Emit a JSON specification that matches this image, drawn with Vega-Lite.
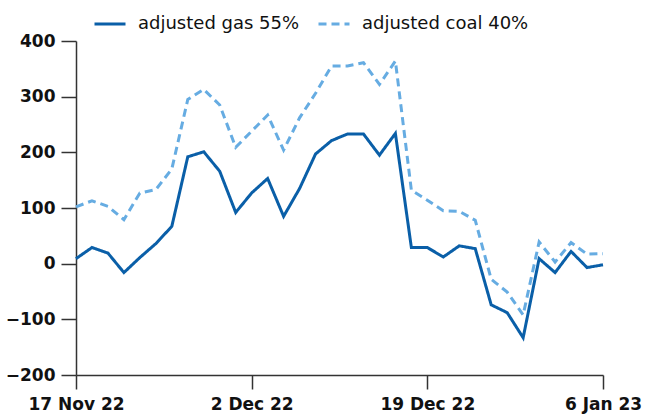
{
  "$schema": "https://vega.github.io/schema/vega-lite/v6.json",
  "width": 527,
  "height": 334,
  "autosize": {"type": "none"},
  "padding": {"left": 76, "top": 41, "right": 58, "bottom": 44},
  "background": "white",
  "config": {
    "font": "DejaVu Sans",
    "view": {"stroke": null},
    "axis": {"grid": false, "domainColor": "#333333", "tickColor": "#333333", "domainWidth": 1.5, "tickWidth": 1.5, "labelColor": "#111111", "labelFont": "DejaVu Sans", "labelFontWeight": "bold", "labelFontSize": 17, "tickSize": 14, "title": null}
  },
  "data": {
    "values": [
      {"date": "17 Nov 22", "adjusted gas 55%": 9, "adjusted coal 40%": 102},
      {"date": "18 Nov 22", "adjusted gas 55%": 29, "adjusted coal 40%": 113},
      {"date": "21 Nov 22", "adjusted gas 55%": 19, "adjusted coal 40%": 103},
      {"date": "22 Nov 22", "adjusted gas 55%": -16, "adjusted coal 40%": 79},
      {"date": "23 Nov 22", "adjusted gas 55%": 11, "adjusted coal 40%": 127},
      {"date": "24 Nov 22", "adjusted gas 55%": 36, "adjusted coal 40%": 133},
      {"date": "25 Nov 22", "adjusted gas 55%": 67, "adjusted coal 40%": 170},
      {"date": "28 Nov 22", "adjusted gas 55%": 192, "adjusted coal 40%": 295},
      {"date": "29 Nov 22", "adjusted gas 55%": 201, "adjusted coal 40%": 313},
      {"date": "30 Nov 22", "adjusted gas 55%": 166, "adjusted coal 40%": 285},
      {"date": "1 Dec 22", "adjusted gas 55%": 92, "adjusted coal 40%": 209},
      {"date": "2 Dec 22", "adjusted gas 55%": 127, "adjusted coal 40%": 238},
      {"date": "5 Dec 22", "adjusted gas 55%": 153, "adjusted coal 40%": 267},
      {"date": "6 Dec 22", "adjusted gas 55%": 85, "adjusted coal 40%": 204},
      {"date": "7 Dec 22", "adjusted gas 55%": 135, "adjusted coal 40%": 262},
      {"date": "8 Dec 22", "adjusted gas 55%": 197, "adjusted coal 40%": 306},
      {"date": "9 Dec 22", "adjusted gas 55%": 221, "adjusted coal 40%": 355},
      {"date": "12 Dec 22", "adjusted gas 55%": 233, "adjusted coal 40%": 355},
      {"date": "13 Dec 22", "adjusted gas 55%": 233, "adjusted coal 40%": 361},
      {"date": "14 Dec 22", "adjusted gas 55%": 195, "adjusted coal 40%": 322},
      {"date": "15 Dec 22", "adjusted gas 55%": 234, "adjusted coal 40%": 364},
      {"date": "16 Dec 22", "adjusted gas 55%": 29, "adjusted coal 40%": 132},
      {"date": "19 Dec 22", "adjusted gas 55%": 29, "adjusted coal 40%": 114},
      {"date": "20 Dec 22", "adjusted gas 55%": 12, "adjusted coal 40%": 95},
      {"date": "21 Dec 22", "adjusted gas 55%": 32, "adjusted coal 40%": 94},
      {"date": "22 Dec 22", "adjusted gas 55%": 27, "adjusted coal 40%": 78},
      {"date": "23 Dec 22", "adjusted gas 55%": -74, "adjusted coal 40%": -28},
      {"date": "28 Dec 22", "adjusted gas 55%": -88, "adjusted coal 40%": -51},
      {"date": "29 Dec 22", "adjusted gas 55%": -133, "adjusted coal 40%": -92},
      {"date": "30 Dec 22", "adjusted gas 55%": 9, "adjusted coal 40%": 39},
      {"date": "3 Jan 23", "adjusted gas 55%": -16, "adjusted coal 40%": 3},
      {"date": "4 Jan 23", "adjusted gas 55%": 22, "adjusted coal 40%": 38},
      {"date": "5 Jan 23", "adjusted gas 55%": -7, "adjusted coal 40%": 17},
      {"date": "6 Jan 23", "adjusted gas 55%": -2, "adjusted coal 40%": 18}
    ]
  },
  "transform": [
    {"fold": ["adjusted gas 55%", "adjusted coal 40%"], "as": ["series", "value"]}
  ],
  "mark": {"type": "line", "strokeWidth": 3, "strokeJoin": "miter", "strokeCap": "butt"},
  "encoding": {
    "x": {
      "field": "date", "type": "ordinal", "sort": null,
      "scale": {"type": "point", "padding": 0},
      "axis": {"values": ["17 Nov 22", "2 Dec 22", "19 Dec 22", "6 Jan 23"], "labelAngle": 0, "labelPadding": 7}
    },
    "y": {
      "field": "value", "type": "quantitative",
      "scale": {"domain": [-200, 400], "nice": false, "zero": false},
      "axis": {"values": [-200, -100, 0, 100, 200, 300, 400], "tickSize": 15, "labelPadding": 6}
    },
    "color": {
      "field": "series", "type": "nominal",
      "scale": {"domain": ["adjusted gas 55%", "adjusted coal 40%"], "range": ["#0a5fa8", "#66ace2"]},
      "legend": {"title": null, "orient": "none", "legendX": 17, "legendY": -34, "direction": "horizontal", "symbolType": "stroke", "symbolSize": 961, "symbolStrokeWidth": 3, "labelFontSize": 18, "labelFont": "DejaVu Sans", "labelColor": "#111111", "labelOffset": 11, "labelLimit": 400, "columnPadding": 12}
    },
    "strokeDash": {
      "field": "series", "type": "nominal",
      "scale": {"domain": ["adjusted gas 55%", "adjusted coal 40%"], "range": [[1, 0], [8, 5]]},
      "legend": {"title": null, "orient": "none", "legendX": 17, "legendY": -34, "direction": "horizontal", "symbolType": "stroke", "symbolSize": 961, "symbolStrokeWidth": 3, "labelFontSize": 18, "labelFont": "DejaVu Sans", "labelColor": "#111111", "labelOffset": 11, "labelLimit": 400, "columnPadding": 12}
    }
  }
}
